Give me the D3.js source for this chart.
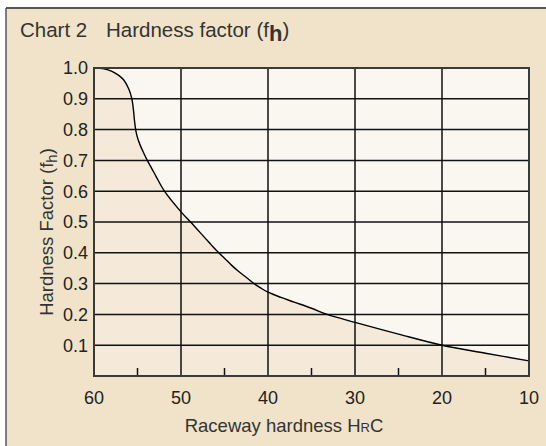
<!DOCTYPE html>
<meta charset="utf-8">
<body style="margin:0;background:#fff">
<script src="https://cdn.jsdelivr.net/npm/d3@7"></script>
<script>
// HRC on the x axis (decreasing left to right), hardness factor on y
var hrc = [60, 59, 58, 57.2, 56.6, 56, 55.65, 55.45, 55.33, 55.18, 54.98, 54.67, 54.3, 53.87, 52.9, 51.9, 50, 48.9, 47.3, 46.5, 45.8, 45, 44.2, 43.4, 42.4, 41.6, 40.8, 40, 38.5, 37, 35, 33.2, 30, 25, 20, 15, 10];
var fh  = [1.0, 0.998, 0.99, 0.977, 0.962, 0.932, 0.9, 0.86, 0.825, 0.795, 0.772, 0.748, 0.725, 0.7, 0.65, 0.6, 0.533, 0.5, 0.45, 0.425, 0.404, 0.382, 0.36, 0.34, 0.318, 0.3, 0.285, 0.272, 0.255, 0.24, 0.22, 0.2, 0.174, 0.136, 0.1, 0.074, 0.049];
var xTicks = [60, 50, 40, 30, 20, 10];
var xMinor = [55, 45, 35, 25, 15];
var yTicks = [0.1, 0.2, 0.3, 0.4, 0.5, 0.6, 0.7, 0.8, 0.9, 1.0];

var W = 546, H = 446;
var P = {l: 94, r: 529, t: 68, b: 376};
var font = 'Liberation Sans, Arial, sans-serif';

var svg = d3.select('body').append('svg')
  .attr('width', W).attr('height', H);

// outer panel
svg.append('rect').attr('x', 6).attr('y', 8).attr('width', W).attr('height', H)
  .attr('fill', '#f0e3c9');
svg.append('line').attr('x1', 6).attr('x2', W).attr('y1', 8).attr('y2', 8)
  .attr('stroke', '#555').attr('stroke-width', 2);
svg.append('line').attr('x1', 6).attr('x2', 6).attr('y1', 8).attr('y2', H)
  .attr('stroke', '#555').attr('stroke-width', 1.5);

var x = d3.scaleLinear().domain([60, 10]).range([P.l, P.r]);
var y = d3.scaleLinear().domain([0, 1]).range([P.b, P.t]);

var pts = hrc.map((h, i) => [h, fh[i]]);
var crv = d3.curveCatmullRom.alpha(0.5);

// plot background
svg.append('rect').attr('x', P.l).attr('y', P.t)
  .attr('width', P.r - P.l).attr('height', P.b - P.t)
  .attr('fill', '#faf7f0');

// shaded area under the curve
svg.append('path').datum(pts)
  .attr('fill', '#f5eada')
  .attr('d', d3.area().x(d => x(d[0])).y0(y(0)).y1(d => y(d[1])).curve(crv));

// grid
var g = svg.append('g').attr('stroke', '#111').attr('stroke-width', 1.5);
yTicks.forEach(v => g.append('line')
  .attr('x1', P.l).attr('x2', P.r).attr('y1', y(v)).attr('y2', y(v)));
xTicks.forEach(v => g.append('line')
  .attr('x1', x(v)).attr('x2', x(v)).attr('y1', P.t).attr('y2', P.b));
xMinor.forEach(v => g.append('line')
  .attr('x1', x(v)).attr('x2', x(v)).attr('y1', P.b - 8).attr('y2', P.b));

// curve
svg.append('path').datum(pts)
  .attr('fill', 'none').attr('stroke', '#000').attr('stroke-width', 1.4)
  .attr('d', d3.line().x(d => x(d[0])).y(d => y(d[1])).curve(crv));

// frame
svg.append('rect').attr('x', P.l).attr('y', P.t)
  .attr('width', P.r - P.l).attr('height', P.b - P.t)
  .attr('fill', 'none').attr('stroke', '#3a3a3a').attr('stroke-width', 2);

// tick labels
svg.append('g').selectAll('text').data(yTicks).enter().append('text')
  .attr('x', P.l - 6).attr('y', d => y(d)).attr('dy', '0.36em')
  .attr('text-anchor', 'end').attr('font-family', font).attr('font-size', 18)
  .attr('fill', '#222').text(d => d3.format('.1f')(d));
svg.append('g').selectAll('text').data(xTicks).enter().append('text')
  .attr('x', d => x(d)).attr('y', 404)
  .attr('text-anchor', 'middle').attr('font-family', font).attr('font-size', 18)
  .attr('fill', '#222').text(d => d);

// title
var t = svg.append('text').attr('y', 37)
  .attr('font-family', font).attr('font-size', 20.5).attr('fill', '#333');
t.append('tspan').attr('x', 20).text('Chart 2');
t.append('tspan').attr('x', 106).text('Hardness factor (f');
t.append('tspan').attr('dy', 4).attr('font-size', 22).attr('font-weight', 'bold').text('h');
t.append('tspan').attr('dy', -4).text(')');

// x axis title
var xt = svg.append('text').attr('x', 284).attr('y', 432)
  .attr('text-anchor', 'middle').attr('font-family', font).attr('font-size', 18.5).attr('fill', '#333');
xt.append('tspan').text('Raceway hardness H');
xt.append('tspan').attr('font-size', 13).text('R');
xt.append('tspan').text('C');

// y axis title
var yt = svg.append('text')
  .attr('transform', 'translate(53,232) rotate(-90)')
  .attr('text-anchor', 'middle').attr('font-family', font).attr('font-size', 18.5).attr('fill', '#333');
yt.append('tspan').text('Hardness Factor (f');
yt.append('tspan').attr('dy', 4).attr('font-size', 15).text('h');
yt.append('tspan').attr('dy', -4).text(')');
</script>
</body>
